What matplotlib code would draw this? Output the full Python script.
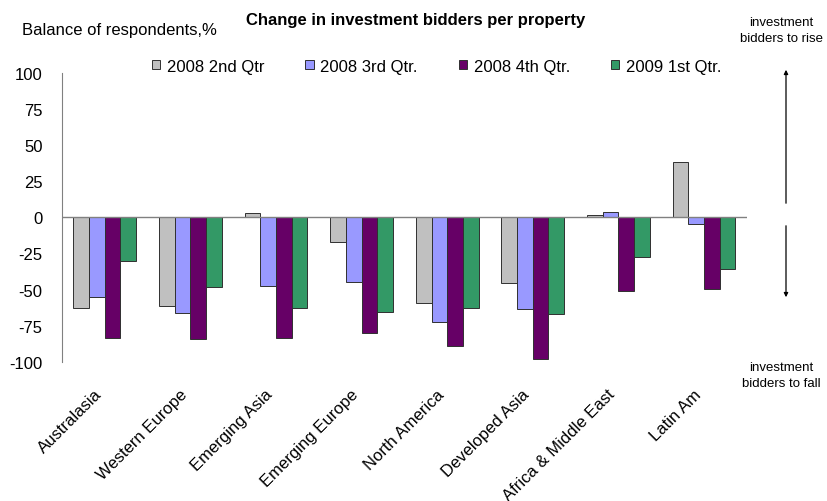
import matplotlib
matplotlib.use("Agg")
import matplotlib.pyplot as plt
import matplotlib.transforms as mtransforms
from matplotlib.patches import FancyArrowPatch
import numpy as np

plt.rcParams["font.family"] = ["Liberation Sans", "DejaVu Sans"]

regions = ["Australasia", "Western Europe", "Emerging Asia", "Emerging Europe",
           "North America", "Developed Asia", "Africa & Middle East", "Latin Am"]
series = ["2008 2nd Qtr", "2008 3rd Qtr.", "2008 4th Qtr.", "2009 1st Qtr."]
q2_2008 = [-62.5, -61.3, 2.8, -16.9, -59.0, -45.4, 1.5, 38.2]
q3_2008 = [-55.5, -66.6, -47.4, -44.9, -72.7, -63.4, 3.5, -4.4]
q4_2008 = [-83.6, -84.3, -83.6, -80.3, -89.3, -98.4, -51.2, -49.3]
q1_2009 = [-30.3, -48.6, -62.5, -65.3, -62.7, -67.3, -27.3, -35.9]
colors = ["#C0C0C0", "#9999FF", "#660066", "#339966"]
yticks = [100, 75, 50, 25, 0, -25, -50, -75, -100]

fig = plt.figure(figsize=(8.27, 5.02), dpi=100)
ax = fig.add_axes([0.075, 0.2775, 0.828, 0.5751])

x = np.arange(len(regions))
w = 0.183
for i, (vals, name) in enumerate(zip([q2_2008, q3_2008, q4_2008, q1_2009], series)):
    ax.bar(x + (i - 1.5) * w, vals, w, color=colors[i], edgecolor="#303030",
           linewidth=0.7, label=name, zorder=2)

ax.set_xlim(-0.5, len(regions) - 0.5)
ax.set_ylim(-100, 100)
ax.set_yticks(yticks)
ax.set_yticklabels([str(t) for t in yticks], fontsize=12)
ax.tick_params(axis="y", length=0, pad=14)
ax.axhline(0, color="#808080", linewidth=1, zorder=3)
for s in ["top", "right", "bottom"]:
    ax.spines[s].set_visible(False)
ax.spines["left"].set_color("#808080")

ax.set_xticks(x)
ax.set_xticklabels(regions, rotation=45, ha="right", va="top",
                   rotation_mode="anchor", fontsize=12)
ax.tick_params(axis="x", length=0, pad=14)
# nudge rotated labels to sit like the original
shift = mtransforms.ScaledTranslation(-11 / 100, -5 / 100, fig.dpi_scale_trans)
for lab in ax.get_xticklabels():
    lab.set_transform(lab.get_transform() + shift)

fig.text(22 / 827, 1 - 31 / 502, "Balance of respondents,%", fontsize=12, va="center")
fig.text(416 / 827, 1 - 21 / 502, "Change in investment bidders per property",
         fontsize=12, fontweight="bold", ha="center", va="center")

fig.legend(loc="center", bbox_to_anchor=(0.528, 0.8665), ncol=4, frameon=False,
           fontsize=12, handlelength=0.5, handleheight=0.5, handletextpad=0.4,
           columnspacing=2.45, borderaxespad=0, borderpad=0)

fig.text(781 / 827, 1 - 31 / 502, "investment\nbidders to rise", fontsize=9.5,
         ha="center", va="center", linespacing=1.5)
fig.text(781 / 827, 1 - 376 / 502, "investment\nbidders to fall", fontsize=9.5,
         ha="center", va="center", linespacing=1.5)
arrow = dict(arrowstyle="-|>", color="black", lw=0.9, mutation_scale=6)
ax_x = 786 / 827
fig.add_artist(FancyArrowPatch((ax_x, 1 - 207 / 502), (ax_x, 1 - 68 / 502),
               transform=fig.transFigure, **arrow))
fig.add_artist(FancyArrowPatch((ax_x, 1 - 224 / 502), (ax_x, 1 - 301 / 502),
               transform=fig.transFigure, **arrow))

fig.savefig("out.png", dpi=100)
